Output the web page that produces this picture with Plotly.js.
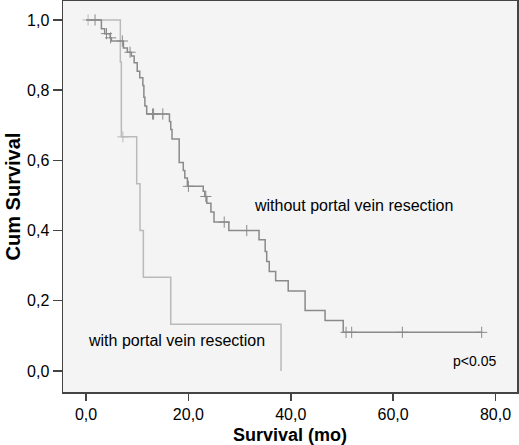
<!DOCTYPE html>
<html>
<head>
<meta charset="utf-8">
<script src="https://cdn.plot.ly/plotly-3.0.1.min.js"></script>
<style>html,body{margin:0;padding:0;background:#fff;}#chart{width:519px;height:445px;}</style>
</head>
<body>
<div id="chart"></div>
<script>
// Group: without portal vein resection (event times, survival after event)
const withoutTimes = [0, 3.0, 3.65, 4.7, 4.95, 7.3, 8.07, 8.85, 9.4, 10.0, 10.5, 11.1, 11.3, 11.5, 11.85, 16.3, 16.55, 16.8, 18.2, 19.0, 19.3, 19.8, 22.9, 23.2, 23.6, 24.4, 25.0, 27.9, 33.8, 35.0, 35.3, 35.8, 37.05, 39.5, 42.8, 46.7, 50.25, 77.3];
const withoutSurv = [1.0, 0.975, 0.961, 0.949, 0.94, 0.92, 0.908, 0.897, 0.878, 0.854, 0.835, 0.813, 0.78, 0.755, 0.732, 0.711, 0.688, 0.661, 0.594, 0.571, 0.55, 0.526, 0.512, 0.497, 0.478, 0.453, 0.424, 0.40, 0.374, 0.34, 0.312, 0.283, 0.257, 0.228, 0.172, 0.144, 0.110, 0.110];
const withoutCensored = [1.76, 4.0, 4.8, 7.1, 8.6, 13.0, 13.2, 15.0, 20.0, 23.4, 27.0, 31.4, 50.8, 51.9, 61.8, 77.3];

// Group: with portal vein resection
const withTimes = [0, 6.7, 6.9, 9.9, 10.55, 11.2, 16.55, 38.1];
const withSurv = [1.0, 0.88, 0.667, 0.533, 0.4, 0.267, 0.133, 0.0];
const withCensored = [0.4, 7.2];

const xTicks = [0, 20, 40, 60, 80];
const xTickLabels = ['0,0', '20,0', '40,0', '60,0', '80,0'];
const yTicks = [0, 0.2, 0.4, 0.6, 0.8, 1.0];
const yTickLabels = ['0,0', '0,2', '0,4', '0,6', '0,8', '1,0'];

function survAt(times, surv, t) {
  let v = surv[0];
  for (let i = 0; i < times.length; i++) { if (times[i] <= t) v = surv[i]; }
  return v;
}

const darkColor = '#8a8a8a';
const lightColor = '#bababa';
const FONT = 'Arial, "Liberation Sans", Helvetica, sans-serif';

const traces = [
  {x: withTimes, y: withSurv, mode: 'lines', line: {shape: 'hv', color: lightColor, width: 1.5}, hoverinfo: 'skip'},
  {x: withCensored, y: withCensored.map(t => survAt(withTimes, withSurv, t)), mode: 'markers',
   marker: {symbol: 'cross-thin', size: 8, line: {color: lightColor, width: 1}}, hoverinfo: 'skip'},
  {x: withoutTimes, y: withoutSurv, mode: 'lines', line: {shape: 'hv', color: darkColor, width: 1.5}, hoverinfo: 'skip'},
  {x: withoutCensored, y: withoutCensored.map(t => survAt(withoutTimes, withoutSurv, t)), mode: 'markers',
   marker: {symbol: 'cross-thin', size: 8, line: {color: darkColor, width: 1}}, hoverinfo: 'skip'}
];

const layout = {
  width: 519, height: 445,
  margin: {l: 63, r: 2, t: 1, b: 53},
  paper_bgcolor: '#ffffff',
  plot_bgcolor: '#f4f4f4',
  showlegend: false,
  font: {family: FONT, size: 16, color: '#000'},
  xaxis: {
    range: [-4.5, 84.2], tickvals: xTicks, ticktext: xTickLabels,
    ticks: 'outside', ticklen: 7, tickwidth: 1.5, tickcolor: '#444',
    showline: true, mirror: true, linecolor: '#444', linewidth: 1.5,
    showgrid: false, zeroline: false,
    tickfont: {size: 16, family: FONT},
    title: {text: '<b>Survival (mo)</b>', font: {size: 18, family: FONT}, standoff: 6}
  },
  yaxis: {
    range: [-0.06, 1.054], tickvals: yTicks, ticktext: yTickLabels,
    ticks: 'outside', ticklen: 9, tickwidth: 1.5, tickcolor: '#444',
    showline: true, mirror: true, linecolor: '#444', linewidth: 1.5,
    showgrid: false, zeroline: false,
    tickfont: {size: 16, family: FONT},
    title: {text: '<b>Cum Survival</b>', font: {size: 20, family: FONT}, standoff: 1}
  },
  annotations: [
    {x: 52.3, y: 0.471, xref: 'x', yref: 'y', text: 'without portal vein resection', showarrow: false, font: {size: 16, family: FONT}},
    {x: 17.7, y: 0.088, xref: 'x', yref: 'y', text: 'with portal vein resection', showarrow: false, font: {size: 16, family: FONT}},
    {x: 75.8, y: 0.029, xref: 'x', yref: 'y', text: 'p<0.05', showarrow: false, font: {size: 14, family: FONT}}
  ]
};

Plotly.newPlot('chart', traces, layout, {staticPlot: true, displayModeBar: false});
</script>
</body>
</html>
